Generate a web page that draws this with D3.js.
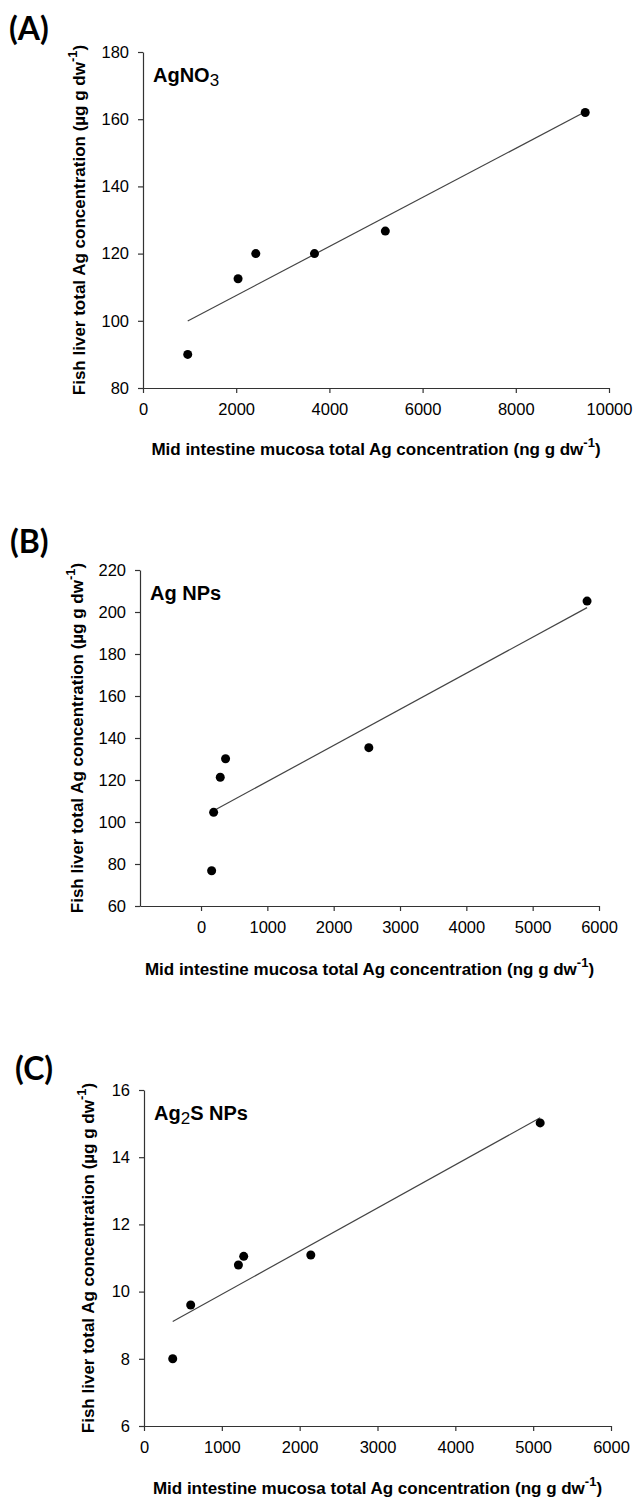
<!DOCTYPE html>
<html>
<head>
<meta charset="utf-8">
<script src="https://cdn.jsdelivr.net/npm/d3@7"></script>
<style>
  body { margin: 0; background: #fff; }
  text { font-family: "Liberation Sans", Arial, sans-serif; fill: #000; }
  .panel-label { font-family: Lato, "Open Sans", sans-serif; font-weight: bold; }
  .axis path, .axis line { stroke: #333; stroke-width: 1.2; }
  .axis text { font-size: 16.5px; font-family: "Liberation Sans", Arial, sans-serif; }
</style>
</head>
<body>
<div id="chart"></div>
<script>
// (A) AgNO3
const aX = [960, 2040, 2420, 3680, 5200, 9490];
const aY = [90, 112.5, 120, 120, 126.7, 162];
const aXTicks = [0, 2000, 4000, 6000, 8000, 10000];
const aYTicks = [80, 100, 120, 140, 160, 180];
const aXDomain = [0, 10000];

// (B) Ag NPs
const bX = [160, 190, 290, 370, 2530, 5820];
const bY = [76.8, 104.6, 121.3, 130.1, 135.4, 205.2];
const bXTicks = [0, 1000, 2000, 3000, 4000, 5000, 6000];
const bYTicks = [60, 80, 100, 120, 140, 160, 180, 200, 220];
const bXDomain = [-920, 6000];

// (C) Ag2S NPs
const cX = [369, 600, 1213, 1281, 2143, 5090];
const cY = [8.0, 9.6, 10.79, 11.05, 11.09, 15.02];
const cXTicks = [0, 1000, 2000, 3000, 4000, 5000, 6000];
const cYTicks = [6, 8, 10, 12, 14, 16];
const cXDomain = [0, 6000];

const width = 634, height = 1497;

const svg = d3.select("#chart").append("svg")
  .attr("width", width)
  .attr("height", height);

// layout of each panel in the page
const panels = [
  {label: "(A)", lx: 9, ly: 40, name: ["AgNO", "3", ""], x: aX, y: aY,
   xTicks: aXTicks, yTicks: aYTicks, xDomain: aXDomain,
   left: 143, right: 609, top: 52, bottom: 388, titleY: 455, yTitleX: 85},
  {label: "(B)", lx: 10, ly: 553, name: ["Ag NPs", "", ""], x: bX, y: bY,
   xTicks: bXTicks, yTicks: bYTicks, xDomain: bXDomain,
   left: 140, right: 599, top: 570, bottom: 906, titleY: 975, yTitleX: 83},
  {label: "(C)", lx: 15, ly: 1080, name: ["Ag", "2", "S NPs"], x: cX, y: cY,
   xTicks: cXTicks, yTicks: cYTicks, xDomain: cXDomain,
   left: 144, right: 611, top: 1090, bottom: 1426, titleY: 1494, yTitleX: 94}
];

// least squares line through the points
function fit(xs, ys) {
  const mx = d3.mean(xs), my = d3.mean(ys);
  let sxy = 0, sxx = 0;
  xs.forEach(function(v, i) { sxy += (v - mx) * (ys[i] - my); sxx += (v - mx) * (v - mx); });
  const slope = sxy / sxx;
  return function(v) { return my + slope * (v - mx); };
}

panels.forEach(function(p) {
  const x = d3.scaleLinear().domain(p.xDomain).range([p.left, p.right]);
  const y = d3.scaleLinear()
    .domain([p.yTicks[0], p.yTicks[p.yTicks.length - 1]])
    .range([p.bottom, p.top]);

  const g = svg.append("g");

  g.append("text")
    .attr("class", "panel-label")
    .attr("x", p.lx)
    .attr("y", p.ly)
    .style("font-size", "32px")
    .text(p.label);

  g.append("g")
    .attr("class", "axis")
    .attr("transform", "translate(0," + p.bottom + ")")
    .call(d3.axisBottom(x).tickValues(p.xTicks).tickSize(5).tickSizeOuter(0).tickPadding(10).tickFormat(d3.format("d")));

  g.append("g")
    .attr("class", "axis")
    .attr("transform", "translate(" + p.left + ",0)")
    .call(d3.axisLeft(y).tickValues(p.yTicks).tickSize(5).tickSizeOuter(0).tickPadding(9).tickFormat(d3.format("d")));

  g.selectAll(".domain").attr("stroke", "#333");

  // regression line over the range of the data
  const f = fit(p.x, p.y);
  const x0 = d3.min(p.x), x1 = d3.max(p.x);
  g.append("line")
    .attr("x1", x(x0)).attr("y1", y(f(x0)))
    .attr("x2", x(x1)).attr("y2", y(f(x1)))
    .attr("stroke", "#444")
    .attr("stroke-width", 1.2);

  g.selectAll(".dot")
    .data(p.x.map(function(v, i) { return [v, p.y[i]]; }))
    .enter().append("circle")
    .attr("class", "dot")
    .attr("cx", function(d) { return x(d[0]); })
    .attr("cy", function(d) { return y(d[1]); })
    .attr("r", 4.5)
    .attr("fill", "#000");

  // name of the treatment inside the plot
  const nm = g.append("text")
    .attr("x", p.left + 10)
    .attr("y", p.top + 30)
    .style("font-size", "20px")
    .style("font-weight", "bold");
  nm.append("tspan").text(p.name[0]);
  if (p.name[1]) {
    nm.append("tspan").attr("dy", 4).style("font-size", "17px").style("font-weight", "normal").text(p.name[1]);
  }
  if (p.name[2]) {
    nm.append("tspan").attr("dy", -4).text(p.name[2]);
  }

  // x axis title
  const xt = g.append("text")
    .attr("x", (p.left + p.right) / 2)
    .attr("y", p.titleY)
    .attr("text-anchor", "middle")
    .style("font-size", "17px")
    .style("font-weight", "bold");
  xt.append("tspan").text("Mid intestine mucosa total Ag concentration (ng g dw");
  xt.append("tspan").attr("dy", -8).style("font-size", "13px").text("-1");
  xt.append("tspan").attr("dy", 8).text(")");

  // y axis title
  const yt = g.append("text")
    .attr("transform", "translate(" + p.yTitleX + "," + ((p.top + p.bottom) / 2) + ") rotate(-90)")
    .attr("text-anchor", "middle")
    .style("font-size", "17px")
    .style("font-weight", "bold");
  yt.append("tspan").text("Fish liver total Ag concentration (µg g dw");
  yt.append("tspan").attr("dy", -8).style("font-size", "13px").text("-1");
  yt.append("tspan").attr("dy", 8).text(")");
});
</script>
</body>
</html>
